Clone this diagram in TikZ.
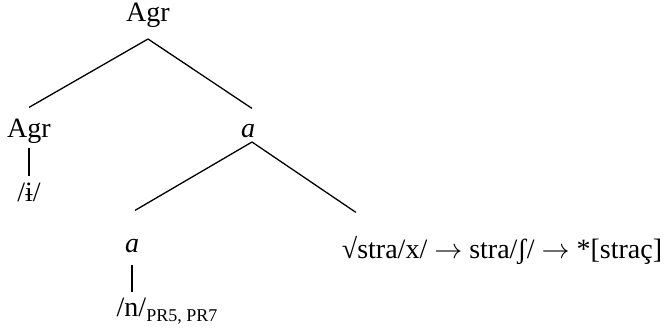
\RequirePackage{fix-cm}
\documentclass[tikz,border=0pt]{standalone}
\usepackage{fontspec}
\setmainfont{Liberation Serif}
\usepackage{tikz}
\usetikzlibrary{positioning}

\begin{document}
\begin{tikzpicture}[x=1pt, y=1pt, on grid, line width=1.3pt,
    every node/.style={inner sep=0pt, outer sep=0pt, text height=19.6pt, text depth=7pt, font=\fontsize{28}{34}\selectfont}]
    \useasboundingbox (0,0) rectangle (670,-330);

    \node (agrtop) at (148,-14.7) {Agr};
    \node [below left=116pt and 119pt of agrtop] (agrleft) {Agr};
    \node [below=64pt of agrleft] (ileft) {/ɨ/};
    \node [below right=116pt and 100pt of agrtop] (amid) {\textit{a}};
    \node [below left=115pt and 116pt of amid] (alow) {\textit{a}};
    \node [below right=64pt and 35pt of alow] (nlow) {/n/\raisebox{-5pt}{\fontsize{18}{18}\selectfont PR5, PR7}};
    \node [below right=121pt and 254pt of amid] (root) {√stra/x/ $\rightarrow$ stra/ʃ/ $\rightarrow$ *[straç]};

    % rami
    \draw ([yshift=-11pt]agrtop.south) -- ([yshift=10pt]agrleft.north);
    \draw ([yshift=-11pt]agrtop.south) -- ([xshift=4pt, yshift=9pt]amid.north);
    \draw ([yshift=-4pt]agrleft.south) -- ([yshift=5pt]agrleft.south |- ileft.north);
    \draw ([xshift=4pt, yshift=2pt]amid.south) -- ([xshift=3pt, yshift=22pt]alow.north);
    \draw ([xshift=4pt, yshift=2pt]amid.south) -- ([xshift=14pt, yshift=26pt]root.north west);
    \draw ([yshift=-6pt]alow.south) -- ([yshift=4pt]alow.south |- nlow.north);

\end{tikzpicture}
\end{document}
